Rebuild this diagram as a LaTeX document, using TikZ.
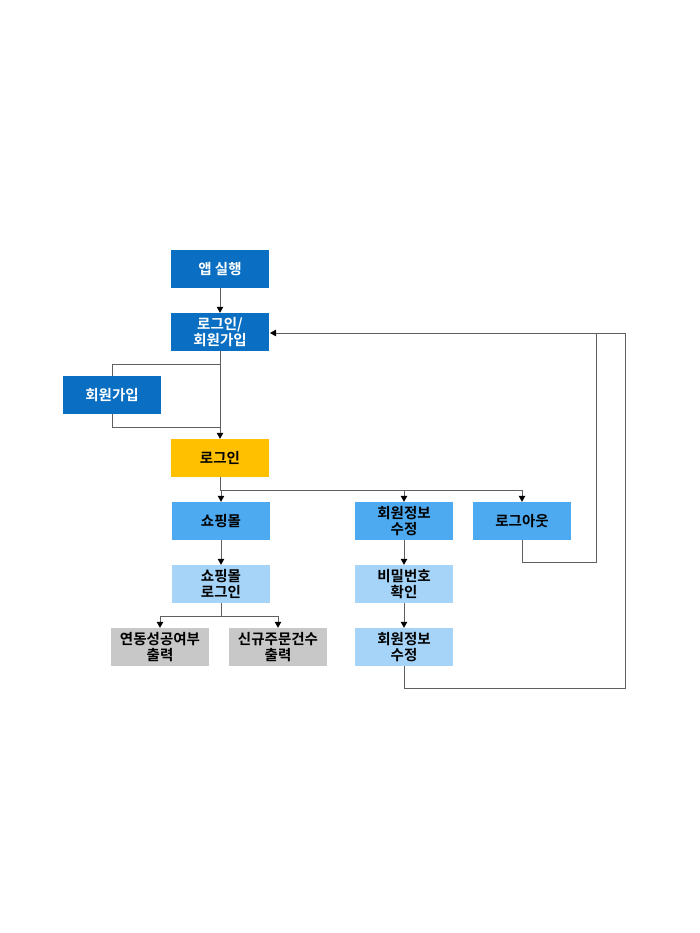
\documentclass[tikz,border=0pt]{standalone}
\usepackage{fontspec}
\setmainfont{Noto Sans CJK KR Bold}
\usetikzlibrary{arrows.meta}
\definecolor{darkblue}{HTML}{0A6FC2}
\definecolor{midblue}{HTML}{4DAAF0}
\definecolor{lightblue}{HTML}{A6D4F8}
\definecolor{goldbox}{HTML}{FFC000}
\definecolor{graybox}{HTML}{C8C8C8}
\definecolor{linegray}{HTML}{606060}
\tikzset{
  box/.style={minimum width=98pt, minimum height=38pt, inner sep=0pt, align=center,
    font=\fontsize{14.5}{15.5}\selectfont},
  darkbox/.style={box, fill=darkblue, text=white},
  goldb/.style={box, fill=goldbox, text=black},
  midbox/.style={box, fill=midblue, text=black},
  lightbox/.style={box, fill=lightblue, text=black},
  greybox/.style={box, fill=graybox, text=black},
  conn/.style={draw=linegray, line width=1pt},
  arr/.style={conn, -{Triangle[length=6pt,width=6.5pt,fill=black,color=black]}},
}
\begin{document}
\begin{tikzpicture}[x=1pt,y=-1pt]
\useasboundingbox (0,0) rectangle (700,933);
\node[darkbox] (app) at (220,269) {앱 실행};
\node[darkbox] (loginjoin) at (220,332) {로그인/\\회원가입};
\node[darkbox] (join) at (112,395) {회원가입};
\node[goldb] (login) at (220,458) {로그인};
\node[midbox] (shop) at (221,521) {쇼핑몰};
\node[midbox] (edit) at (404,521) {회원정보\\수정};
\node[midbox] (logout) at (522,521) {로그아웃};
\node[lightbox] (shoplogin) at (221,584) {쇼핑몰\\로그인};
\node[lightbox] (pw) at (404,584) {비밀번호\\확인};
\node[lightbox] (edit2) at (404,647) {회원정보\\수정};
\node[greybox] (res1) at (160,647) {연동성공여부\\출력};
\node[greybox] (res2) at (278,647) {신규주문건수\\출력};

\coordinate (j1) at (220,364);
\coordinate (j2) at (220,427);
\coordinate (b1) at (220,490);
\coordinate (b2) at (221,616);
\coordinate (rt) at (270,333);

\draw[arr] (app) -- (loginjoin);
\draw[arr] (loginjoin) -- (login);
\draw[conn] (j1) -| (join.north);
\draw[conn] (join.south) |- (j2);
\draw[conn] (login.south) -- (b1);
\draw[arr] (b1) -| (shop.north);
\draw[arr] (b1) -| (edit.north);
\draw[arr] (b1) -| (logout.north);
\draw[arr] (shop) -- (shoplogin);
\draw[conn] (shoplogin.south) -- (b2);
\draw[arr] (b2) -| (res1.north);
\draw[arr] (b2) -| (res2.north);
\draw[arr] (edit) -- (pw);
\draw[arr] (pw) -- (edit2);
\draw[conn] (logout.south) |- (596,562) -- (596,333);
\draw[conn] (edit2.south) |- (625,688) -- (625,333) -- (596,333);
\draw[arr] (596,333) -- (rt);
\end{tikzpicture}
\end{document}
